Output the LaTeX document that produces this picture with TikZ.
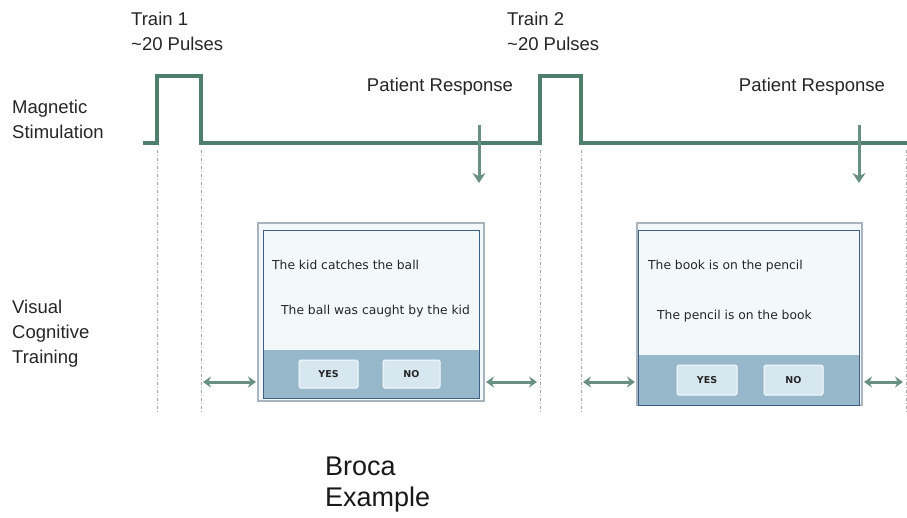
\documentclass[tikz,border=0pt]{standalone}
\usepackage{fontspec}
\setmainfont{Liberation Sans}
\newfontfamily\uifont{DejaVu Sans}
\usetikzlibrary{arrows.meta}
\definecolor{wave}{HTML}{4E7E6C}
\definecolor{guide}{HTML}{9EA5A3}
\definecolor{panelbg}{HTML}{F3F8FB}
\definecolor{panelband}{HTML}{97B8CB}
\definecolor{paneledge}{HTML}{3E5F86}
\definecolor{frameedge}{HTML}{A9B4BE}
\definecolor{btnfill}{HTML}{D6E7F0}
\tikzset{
  label/.style={font=\fontsize{18.5}{25}\selectfont, align=left, inner sep=0pt, text=black!85},
  biglabel/.style={font=\fontsize{27}{31}\selectfont, align=left, inner sep=0pt, text=black!90},
  wavepath/.style={draw=wave, line width=3.2pt, line join=miter},
  guideline/.style={draw=guide, line width=0.8pt, dash pattern=on 3pt off 2pt on 1pt off 2pt},
  respond/.style={draw=wave!85, line width=3pt, -{Stealth[length=10pt,width=13pt]}},
  gap/.style={draw=wave!85, line width=3pt, {Stealth[length=8pt,width=11pt]}-{Stealth[length=8pt,width=11pt]}},
  uitext/.style={font=\uifont\fontsize{12.3}{14}\selectfont, anchor=west, inner sep=0pt, text=black!85},
  btn/.style={draw=white!85!btnfill, fill=btnfill, line width=1pt, rounded corners=1.5pt,
    font=\uifont\bfseries\fontsize{9.5}{11}\selectfont, text=black!85, inner sep=0pt},
}
\begin{document}
\begin{tikzpicture}[x=1pt,y=-1pt]
\useasboundingbox[fill=white] (0,0) rectangle (907,517);

% row labels
\node[label, anchor=north west] (trainA) at (131,12) {Train 1\\\textasciitilde20 Pulses};
\node[label, anchor=north west] (trainB) at (507,12) {Train 2\\\textasciitilde20 Pulses};
\node[label, anchor=north west] (magstim) at (12,100) {Magnetic\\Stimulation};
\node[label, anchor=north west] (vct) at (12,300) {Visual\\Cognitive\\Training};
\node[label, anchor=center] (respA) at (440,87) {Patient Response};
\node[label, anchor=center] (respB) at (812,87) {Patient Response};
\node[biglabel, anchor=north west] (broca) at (325,457) {Broca\\Example};

% timing guides below the pulse edges
\foreach \gx/\gn in {157/ga, 201/gb, 540/gc, 581/gd, 906/ge}{
  \coordinate (\gn top) at (\gx,150);
  \coordinate (\gn bot) at (\gx,414);
  \draw[guideline] (\gn top) -- (\gn bot);
}

% stimulation waveform with two pulse trains
\coordinate (w0) at (143,143);
\coordinate (p1a) at (157,143); \coordinate (p1b) at (157,76);
\coordinate (p1c) at (201,76);  \coordinate (p1d) at (201,143);
\coordinate (p2a) at (540,143); \coordinate (p2b) at (540,76);
\coordinate (p2c) at (581,76);  \coordinate (p2d) at (581,143);
\coordinate (w1) at (907,143);
\draw[wavepath] (w0) -- (p1a) -- (p1b) -- (p1c) -- (p1d) -- (p2a) -- (p2b) -- (p2c) -- (p2d) -- (w1);

% patient response markers
\coordinate (rA0) at (479,125); \coordinate (rA1) at (479,183);
\coordinate (rB0) at (859,125); \coordinate (rB1) at (859,183);
\draw[respond] (rA0) -- (rA1);
\draw[respond] (rB0) -- (rB1);

% first task panel
\draw[frameedge, line width=1.2pt, fill=panelbg] (258,223) rectangle (484,401);
\fill[panelbg] (263,230) rectangle (479,350);
\fill[panelband] (263,350) rectangle (479,398);
\draw[paneledge, line width=1pt] (263,230) rectangle (479,398);
\node[uitext] (sA1) at (272,265) {The kid catches the ball};
\node[uitext] (sA2) at (281,311) {The ball was caught by the kid};
\node[btn, minimum width=59pt, minimum height=28pt] (yesA) at (328.5,374) {YES};
\node[btn, minimum width=57pt, minimum height=28pt] (noA) at (411.5,374) {NO};

% second task panel
\draw[frameedge, line width=1.2pt, fill=panelbg] (637,223) rectangle (862,405);
\fill[panelbg] (638,230) rectangle (859,355);
\fill[panelband] (638,355) rectangle (859,405);
\draw[paneledge, line width=1pt] (638,230) rectangle (859,405);
\node[uitext] (sB1) at (648,266) {The book is on the pencil};
\node[uitext] (sB2) at (657,316) {The pencil is on the book};
\node[btn, minimum width=60pt, minimum height=30pt] (yesB) at (707,380) {YES};
\node[btn, minimum width=59pt, minimum height=30pt] (noB) at (793.5,380) {NO};

% inter-trial intervals
\coordinate (iA0) at (203,382); \coordinate (iA1) at (256,382);
\coordinate (iB0) at (486,382); \coordinate (iB1) at (537,382);
\coordinate (iC0) at (583,382); \coordinate (iC1) at (635,382);
\coordinate (iD0) at (864,382); \coordinate (iD1) at (903,382);
\draw[gap] (iA0) -- (iA1);
\draw[gap] (iB0) -- (iB1);
\draw[gap] (iC0) -- (iC1);
\draw[gap] (iD0) -- (iD1);
\end{tikzpicture}
\end{document}
